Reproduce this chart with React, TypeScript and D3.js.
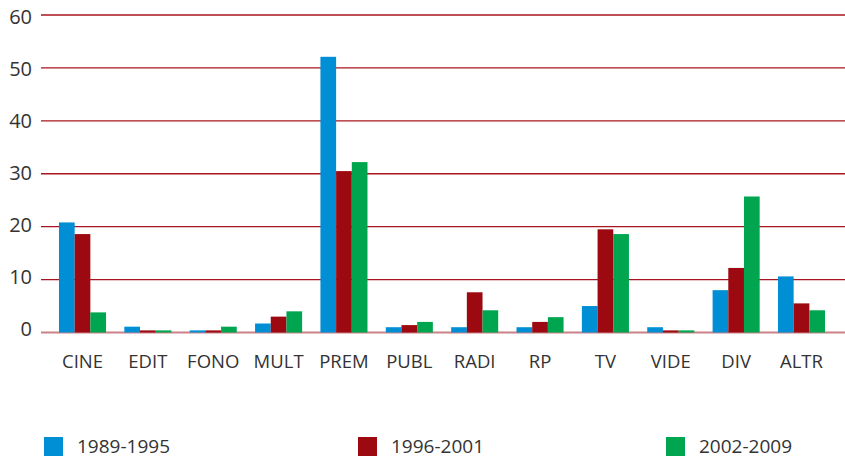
import React from "react";
import * as d3 from "d3";

const categories = ["CINE", "EDIT", "FONO", "MULT", "PREM", "PUBL", "RADI", "RP", "TV", "VIDE", "DIV", "ALTR"];
const seriesNames = ["1989-1995", "1996-2001", "2002-2009"];
const s1989 = [20.8, 1.1, 0.4, 1.7, 52.1, 1.0, 1.0, 1.0, 5.0, 1.0, 8.0, 10.6];
const s1996 = [18.6, 0.4, 0.4, 3.0, 30.5, 1.4, 7.6, 2.0, 19.5, 0.4, 12.2, 5.5];
const s2002 = [3.8, 0.4, 1.1, 4.0, 32.2, 2.0, 4.2, 2.9, 18.6, 0.4, 25.7, 4.2];
const yTicks = [0, 10, 20, 30, 40, 50, 60];
const colors = ["#008fd5", "#9c0910", "#00a54f"];

const W = 845, H = 458;
const left = 41, right = 845, top = 15, bottom = 332.5;
const FONT = "'Open Sans', sans-serif";

export default function App() {
  const series = [s1989, s1996, s2002];
  const x = d3.scaleBand<string>().domain(categories).range([left, 843]).paddingInner(0.28).paddingOuter(0.275);
  const xs = d3.scaleBand<number>().domain([0, 1, 2]).range([0, x.bandwidth()]);
  const y = d3.scaleLinear().domain([0, 60]).range([bottom, top]);
  const yLabel = d3.scaleLinear().domain([0, 60]).range([328.5, 17]);
  const legendX = [44, 358, 666];

  return (
    <svg width={W} height={H} style={{ position: "absolute", left: 0, top: 0 }}>
      <rect width={W} height={H} fill="#fff" />
      {yTicks.map((t) => (
        <g key={t}>
          <line x1={left} x2={right} y1={y(t)} y2={y(t)} stroke={t === 0 ? "#c98288" : "#a8141f"} strokeWidth={t === 0 ? 2 : 1.3} />
          <text x={32} y={yLabel(t)} dy="0.36em" textAnchor="end" fontFamily={FONT} fontSize={20} fill="#333">{t}</text>
        </g>
      ))}
      {categories.map((c, i) => (
        <g key={c}>
          {series.map((s, k) => (
            <rect key={k} x={(x(c) as number) + (xs(k) as number)} width={xs.bandwidth()} y={y(s[i])} height={y(0) - y(s[i])} fill={colors[k]} />
          ))}
          <text x={(x(c) as number) + x.bandwidth() / 2} y={368} textAnchor="middle" fontFamily={FONT} fontSize={18.5} fill="#333">{c}</text>
        </g>
      ))}
      {seriesNames.map((n, k) => (
        <g key={n}>
          <rect x={legendX[k]} y={437} width={19} height={19} fill={colors[k]} />
          <text x={legendX[k] + 33} y={452.5} fontFamily={FONT} fontSize={19} fill="#333">{n}</text>
        </g>
      ))}
    </svg>
  );
}
